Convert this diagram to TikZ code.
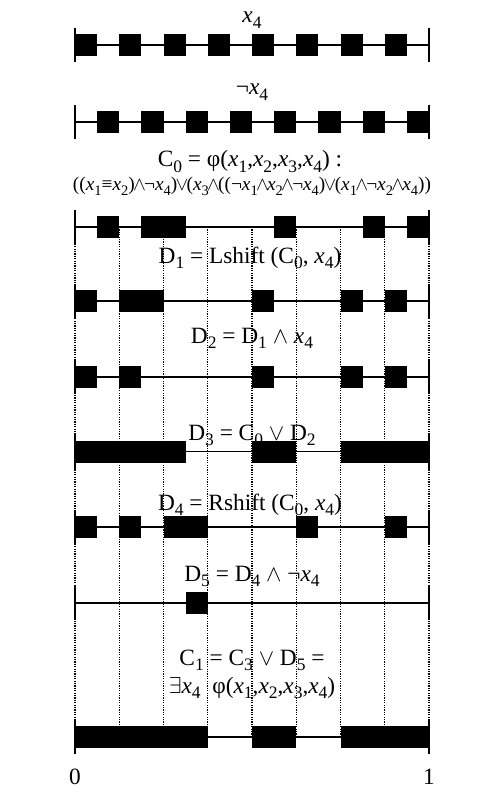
\documentclass[tikz,border=0pt]{standalone}
\usepackage{fontspec}
\setmainfont{Liberation Serif}
\newcommand{\sub}[1]{\raisebox{-0.22em}{\fontsize{0.75em}{1em}\selectfont #1}}
\newcommand{\xv}[1]{\textit{x}\sub{#1}}
\newcommand{\myand}{$\wedge$}
\newcommand{\myor}{$\vee$}
\newcommand{\fand}{\kern-0.09em$\wedge$\kern-0.09em}
\newcommand{\forr}{\kern-0.09em$\vee$\kern-0.09em}
\tikzset{
  axisline/.style={line width=1.3pt},
  endtick/.style={line width=1.4pt},
  gridline/.style={line width=0.9pt, dash pattern=on 0.9pt off 0.9pt},
  lbl/.style={anchor=base, inner sep=0pt, font=\fontsize{17.5}{20}\selectfont},
  lblf/.style={anchor=base, inner sep=0pt, font=\fontsize{14.5}{17}\selectfont},
}
\newcommand{\axisrow}[2]{%
  \draw[axisline] (75,#1) -- (429,#1);
  \foreach \a/\b in {#2} {\fill ({75+\a*22.125},{#1-11}) rectangle ({75+\b*22.125},{#1+11});}
  \draw[endtick] (75,{#1-17}) -- (75,{#1+17});
  \draw[endtick] (429,{#1-17}) -- (429,{#1+17});
}
\begin{document}
\begin{tikzpicture}[x=0.75pt,y=-0.75pt]
\useasboundingbox (0,0) rectangle (488,798);
% dotted grid
\foreach \k in {0,...,8} {\draw[gridline] ({75+\k*44.25},227) -- ({75+\k*44.25},737);}
% rows
\axisrow{45}{0/1,2/3,4/5,6/7,8/9,10/11,12/13,14/15}
\axisrow{122}{1/2,3/4,5/6,7/8,9/10,11/12,13/14,15/16}
\axisrow{227}{1/2,3/5,9/10,13/14,15/16}
\axisrow{301}{0/1,2/4,8/9,12/13,14/15}
\axisrow{377}{0/1,2/3,8/9,12/13,14/15}
\axisrow{451.5}{0/5,8/10,12/16}
\axisrow{527}{0/1,2/3,4/6,10/11,14/15}
\axisrow{603}{5/6}
\axisrow{737}{0/6,8/10,12/16}
% labels
\node[lbl] (lx) at (252,23) {\xv{4}};
\node[lbl] (lnx) at (252,95) {¬\xv{4}};
\node[lbl] (lc0a) at (250,167) {C\sub{0} = φ(\xv{1},\xv{2},\xv{3},\xv{4}) :};
\node[lblf] (lc0b) at (252,191) {((\xv{1}≡\xv{2})\fand¬\xv{4})\forr(\xv{3}\fand((¬\xv{1}\fand\xv{2}\fand¬\xv{4})\forr(\xv{1}\fand¬\xv{2}\fand\xv{4}))};
\node[lbl] (ld1) at (250,263) {D\sub{1} = Lshift (C\sub{0}, \xv{4})};
\node[lbl] (ld2) at (252,343) {D\sub{2} = D\sub{1} \myand{} \xv{4}};
\node[lbl] (ld3) at (252,440) {D\sub{3} = C\sub{0} \myor{} D\sub{2}};
\node[lbl] (ld4) at (250,510) {D\sub{4} = Rshift (C\sub{0}, \xv{4})};
\node[lbl] (ld5) at (252,581) {D\sub{5} = D\sub{4} \myand{} ¬\xv{4}};
\node[lbl] (lc1a) at (252,665) {C\sub{1} = C\sub{3} \myor{} D\sub{5} =};
\node[lbl] (lc1b) at (252,693) {$\exists$\xv{4}\ \ φ(\xv{1},\xv{2},\xv{3},\xv{4})};
\node[lbl] (l0) at (75,784) {0};
\node[lbl] (l1) at (429,784) {1};
\end{tikzpicture}
\end{document}
